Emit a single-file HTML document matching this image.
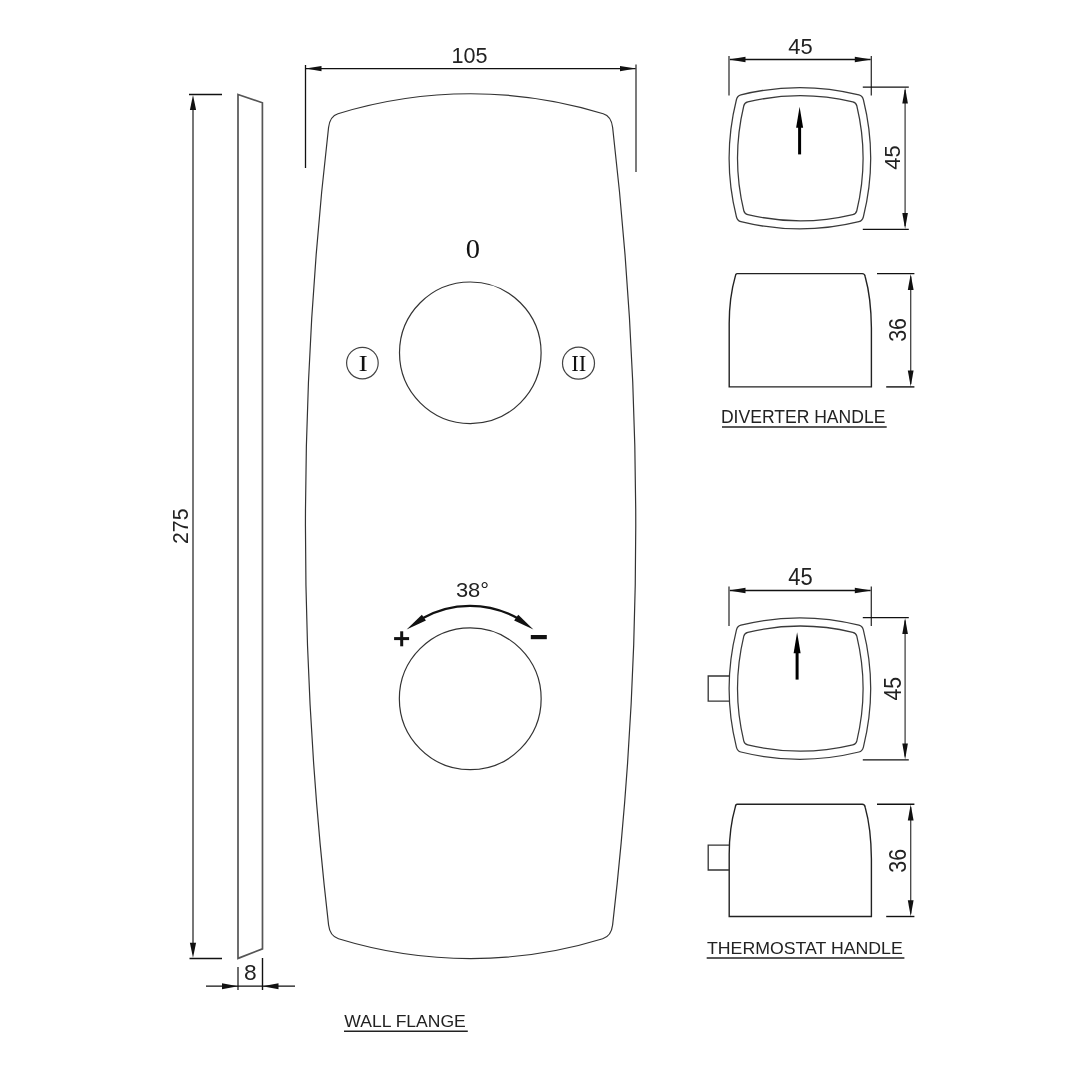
<!DOCTYPE html>
<html><head><meta charset="utf-8"><style>
html,body{margin:0;padding:0;background:#fff;width:1080px;height:1080px;overflow:hidden}
svg{display:block;will-change:transform}
</style></head><body>
<svg width="1080" height="1080" viewBox="0 0 1080 1080">
<rect width="1080" height="1080" fill="#fff"/>
<line x1="189" y1="94.5" x2="222" y2="94.5" stroke="#111" stroke-width="1.3"/>
<line x1="189.5" y1="958.5" x2="222" y2="958.5" stroke="#111" stroke-width="1.3"/>
<line x1="193" y1="100" x2="193" y2="953" stroke="#555" stroke-width="1.6"/>
<path d="M193 95L196.1 110L189.9 110Z" fill="#111"/>
<path d="M193 957.8L189.9 942.8L196.1 942.8Z" fill="#111"/>
<text transform="matrix(0 -0.9882 1.0623 0 188.13 543.99)" font-family="Liberation Sans" font-size="21.5" fill="#222">275</text>
<path d="M238 94.5L262.4 102.8L262.5 948.8L238 958.4Z" fill="none" stroke="#555" stroke-width="1.7" stroke-linejoin="miter"/>
<line x1="238" y1="967" x2="238" y2="990" stroke="#333" stroke-width="1.4"/>
<line x1="262.5" y1="958" x2="262.5" y2="990" stroke="#111" stroke-width="1.4"/>
<line x1="206" y1="986.2" x2="295" y2="986.2" stroke="#111" stroke-width="1.3"/>
<path d="M238 986.2L222 989.2L222 983.2Z" fill="#111"/>
<path d="M262.5 986.2L278.5 983.2L278.5 989.2Z" fill="#111"/>
<text transform="matrix(1.0600 0 0 1.0426 243.94 980.14)" font-family="Liberation Sans" font-size="21.5" fill="#222">8</text>
<line x1="305.5" y1="65" x2="305.5" y2="168" stroke="#111" stroke-width="1.3"/>
<line x1="636" y1="64.5" x2="636" y2="172" stroke="#333" stroke-width="1.3"/>
<line x1="306" y1="68.6" x2="635.5" y2="68.6" stroke="#111" stroke-width="1.3"/>
<path d="M305.5 68.6L321.5 66L321.5 71.2Z" fill="#111"/>
<path d="M636 68.6L620 71.2L620 66Z" fill="#111"/>
<text transform="matrix(1.0045 0 0 1.0230 451.54 62.64)" font-family="Liberation Sans" font-size="21.5" fill="#222">105</text>
<path d="M328.56 127.5Q329.88 116.2 338 113.74A450 450 0 0 1 603.2 113.74Q611.32 116.2 612.64 127.5A3460 3460 0 0 1 612.61 925Q611.31 936.1 602.7 938.71A450 450 0 0 1 338.5 938.71Q329.89 936.1 328.59 925A3460 3460 0 0 1 328.56 127.5Z" fill="none" stroke="#333" stroke-width="1.2"/>
<circle cx="470.3" cy="352.8" r="70.8" fill="none" stroke="#333" stroke-width="1.2"/>
<circle cx="470.25" cy="698.8" r="70.9" fill="none" stroke="#333" stroke-width="1.2"/>
<circle cx="362.4" cy="363.1" r="15.8" fill="none" stroke="#444" stroke-width="1.2"/>
<circle cx="578.5" cy="363.2" r="16" fill="none" stroke="#444" stroke-width="1.2"/>
<text transform="matrix(1.0756 0 0 1.0141 465.82 258.15)" font-family="Liberation Serif" font-size="26.5" fill="#111">0</text>
<text transform="matrix(1.2500 0 0 1.0034 358.46 370.70)" font-family="Liberation Serif" font-size="22.4" fill="#111">I</text>
<text transform="matrix(1.0074 0 0 1.0169 571.24 371.00)" font-family="Liberation Serif" font-size="22.6" fill="#111">II</text>
<path d="M421 618.93A98 98 0 0 1 519 618.93" fill="none" stroke="#111" stroke-width="2.3"/>
<path d="M406.6 629.5L425.94 620.57L421.86 614.63Z" fill="#111"/>
<path d="M533.4 629.6L518.26 614.65L514.14 620.55Z" fill="#111"/>
<text transform="matrix(1.0973 0 0 1.0526 455.88 596.64)" font-family="Liberation Sans" font-size="20" fill="#222">38°</text>
<rect x="394.1" y="637.1" width="15" height="3" fill="#111"/>
<rect x="400.2" y="631.3" width="3" height="15" fill="#111"/>
<rect x="530.8" y="635" width="16" height="4.2" fill="#111"/>
<path d="M736.4 99.75Q737.41 95.71 740.9 94.85Q799.9 80.25 858.9 94.85Q862.39 95.71 863.4 99.75Q878 158.25 863.4 216.75Q862.39 220.79 858.9 221.65Q799.9 236.25 740.9 221.65Q737.41 220.79 736.4 216.75Q721.8 158.25 736.4 99.75Z" fill="none" stroke="#3a3a3a" stroke-width="1.25"/>
<path d="M743.8 105.75Q744.52 102.74 747.8 101.95Q800.3 89.35 852.8 101.95Q856.08 102.74 856.8 105.75Q869.4 158.25 856.8 210.75Q856.08 213.76 852.8 214.55Q800.3 227.15 747.8 214.55Q744.52 213.76 743.8 210.75Q731.2 158.25 743.8 105.75Z" fill="none" stroke="#3a3a3a" stroke-width="1.25"/>
<path d="M799.6 106.7L803.1 127.7L796.1 127.7Z" fill="#000"/>
<line x1="799.6" y1="124.7" x2="799.6" y2="154.4" stroke="#000" stroke-width="3"/>
<line x1="729" y1="56" x2="729" y2="95.6" stroke="#333" stroke-width="1.3"/>
<line x1="871.3" y1="56" x2="871.3" y2="95.6" stroke="#333" stroke-width="1.3"/>
<line x1="730" y1="59.5" x2="870.5" y2="59.5" stroke="#111" stroke-width="1.3"/>
<path d="M729 59.5L745.5 56.7L745.5 62.3Z" fill="#111"/>
<path d="M871.3 59.5L854.8 62.3L854.8 56.7Z" fill="#111"/>
<text transform="matrix(1.0222 0 0 1.0600 788.19 54.34)" font-family="Liberation Sans" font-size="21.5" fill="#222">45</text>
<line x1="862.8" y1="87.2" x2="908.8" y2="87.2" stroke="#111" stroke-width="1.3"/>
<line x1="862.8" y1="229.3" x2="908.8" y2="229.3" stroke="#111" stroke-width="1.3"/>
<line x1="905.1" y1="90" x2="905.1" y2="226" stroke="#444" stroke-width="1.3"/>
<path d="M905.1 87.5L907.9 103.5L902.3 103.5Z" fill="#111"/>
<path d="M905.1 229L902.3 213L907.9 213Z" fill="#111"/>
<text transform="matrix(0 -1.0222 1.0267 0 900.04 169.81)" font-family="Liberation Sans" font-size="21.5" fill="#222">45</text>
<path d="M736.4 630.1Q737.41 626.06 740.9 625.2Q799.9 610.6 858.9 625.2Q862.39 626.06 863.4 630.1Q878 688.6 863.4 747.1Q862.39 751.14 858.9 752Q799.9 766.6 740.9 752Q737.41 751.14 736.4 747.1Q721.8 688.6 736.4 630.1Z" fill="none" stroke="#3a3a3a" stroke-width="1.25"/>
<path d="M743.8 636.1Q744.52 633.09 747.8 632.3Q800.3 619.7 852.8 632.3Q856.08 633.09 856.8 636.1Q869.4 688.6 856.8 741.1Q856.08 744.11 852.8 744.9Q800.3 757.5 747.8 744.9Q744.52 744.11 743.8 741.1Q731.2 688.6 743.8 636.1Z" fill="none" stroke="#3a3a3a" stroke-width="1.25"/>
<path d="M797.1 632.2L800.6 653.2L793.6 653.2Z" fill="#000"/>
<line x1="797.1" y1="650.2" x2="797.1" y2="679.6" stroke="#000" stroke-width="3"/>
<line x1="729" y1="586.5" x2="729" y2="626.1" stroke="#333" stroke-width="1.3"/>
<line x1="871.3" y1="586.5" x2="871.3" y2="626.1" stroke="#333" stroke-width="1.3"/>
<line x1="730" y1="590.5" x2="870.5" y2="590.5" stroke="#111" stroke-width="1.3"/>
<path d="M729 590.5L745.5 587.7L745.5 593.3Z" fill="#111"/>
<path d="M871.3 590.5L854.8 593.3L854.8 587.7Z" fill="#111"/>
<text transform="matrix(1.0222 0 0 1.0867 788.19 585.43)" font-family="Liberation Sans" font-size="21.5" fill="#222">45</text>
<line x1="862.8" y1="617.7" x2="908.8" y2="617.7" stroke="#111" stroke-width="1.3"/>
<line x1="862.8" y1="759.8" x2="908.8" y2="759.8" stroke="#111" stroke-width="1.3"/>
<line x1="905.1" y1="620.5" x2="905.1" y2="756.5" stroke="#444" stroke-width="1.3"/>
<path d="M905.1 618L907.9 634L902.3 634Z" fill="#111"/>
<path d="M905.1 759.5L902.3 743.5L907.9 743.5Z" fill="#111"/>
<text transform="matrix(0 -0.9867 1.0867 0 900.83 700.49)" font-family="Liberation Sans" font-size="21.5" fill="#222">45</text>
<path d="M729.8 676H708.2V701.1H729.8" fill="none" stroke="#333" stroke-width="1.3"/>
<path d="M737.2 273.6Q735.6 273.6 735.4 275.9Q729.2 297.6 729.2 323.6V386.9H871.4V328.1Q871.1 297.6 865.2 276.7Q864.8 273.6 862.2 273.6Z" fill="none" stroke="#222" stroke-width="1.4"/>
<line x1="877" y1="273.6" x2="914.4" y2="273.6" stroke="#111" stroke-width="1.4"/>
<line x1="886.2" y1="386.9" x2="914.4" y2="386.9" stroke="#111" stroke-width="1.4"/>
<line x1="910.7" y1="276.6" x2="910.7" y2="383.9" stroke="#444" stroke-width="1.3"/>
<path d="M910.7 273.9L913.6 289.9L907.8 289.9Z" fill="#111"/>
<path d="M910.7 386.6L907.8 370.6L913.6 370.6Z" fill="#111"/>
<text transform="matrix(0 -0.9978 1.1016 0 905.62 341.85)" font-family="Liberation Sans" font-size="21.5" fill="#222">36</text>
<path d="M737.2 804.3Q735.6 804.3 735.4 806.6Q729.2 828.3 729.2 854.3V916.5H871.4V858.8Q871.1 828.3 865.2 807.4Q864.8 804.3 862.2 804.3Z" fill="none" stroke="#222" stroke-width="1.4"/>
<line x1="877" y1="804.3" x2="914.4" y2="804.3" stroke="#111" stroke-width="1.4"/>
<line x1="886.2" y1="916.5" x2="914.4" y2="916.5" stroke="#111" stroke-width="1.4"/>
<line x1="910.7" y1="807.3" x2="910.7" y2="913.5" stroke="#444" stroke-width="1.3"/>
<path d="M910.7 804.6L913.6 820.6L907.8 820.6Z" fill="#111"/>
<path d="M910.7 916.2L907.8 900.2L913.6 900.2Z" fill="#111"/>
<text transform="matrix(0 -0.9933 1.1016 0 905.62 872.64)" font-family="Liberation Sans" font-size="21.5" fill="#222">36</text>
<path d="M729.3 845.1H708.2V870H729.3" fill="none" stroke="#333" stroke-width="1.3"/>
<text transform="matrix(1.0325 0 0 1.0298 720.95 422.90)" font-family="Liberation Sans" font-size="17" fill="#222">DIVERTER HANDLE</text>
<line x1="722" y1="426.9" x2="886.7" y2="426.9" stroke="#222" stroke-width="1.5"/>
<text transform="matrix(1.0420 0 0 0.9917 706.98 953.75)" font-family="Liberation Sans" font-size="17" fill="#222">THERMOSTAT HANDLE</text>
<line x1="706.7" y1="958" x2="904.4" y2="958" stroke="#222" stroke-width="1.5"/>
<text transform="matrix(1.0321 0 0 0.9750 344.34 1027.26)" font-family="Liberation Sans" font-size="17" fill="#222">WALL FLANGE</text>
<line x1="344" y1="1031.3" x2="467.8" y2="1031.3" stroke="#222" stroke-width="1.5"/>
</svg>
</body></html>
